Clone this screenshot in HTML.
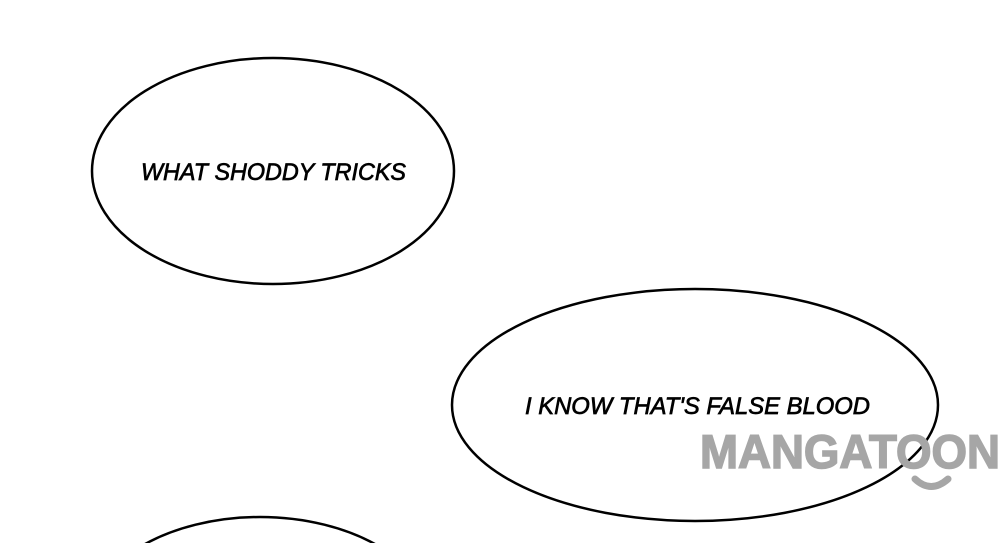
<!DOCTYPE html>
<html><head><style>html,body{margin:0;padding:0;background:#fff;width:1000px;height:543px;overflow:hidden}svg{display:block}</style></head>
<body>
<svg width="1000" height="543" viewBox="0 0 1000 543" xmlns="http://www.w3.org/2000/svg">
<rect width="1000" height="543" fill="#fff"/>
<ellipse cx="273" cy="171" rx="181" ry="113" fill="none" stroke="#000" stroke-width="2.5"/>
<ellipse cx="695" cy="405" rx="243" ry="116" fill="none" stroke="#000" stroke-width="2.5"/>
<ellipse cx="260" cy="627" rx="175" ry="110" fill="none" stroke="#000" stroke-width="2.5"/>
<text x="141" y="180" font-family="Liberation Sans, sans-serif" font-style="italic" font-size="24" stroke="#000" stroke-width="0.7" textLength="265" lengthAdjust="spacingAndGlyphs" fill="#000">WHAT SHODDY TRICKS</text>
<text x="525" y="414" font-family="Liberation Sans, sans-serif" font-style="italic" font-size="24" stroke="#000" stroke-width="0.7" textLength="345" lengthAdjust="spacingAndGlyphs" fill="#000">I KNOW THAT'S FALSE BLOOD</text>
<text x="700" y="468" font-family="Liberation Sans, sans-serif" font-weight="bold" font-size="47" stroke="#a6a6a6" stroke-width="1.5" textLength="300" lengthAdjust="spacingAndGlyphs" fill="#a6a6a6">MANGATOON</text>
<path d="M915 479 Q931 494 948 479" fill="none" stroke="#a6a6a6" stroke-width="7" stroke-linecap="round"/>
</svg>
</body></html>
